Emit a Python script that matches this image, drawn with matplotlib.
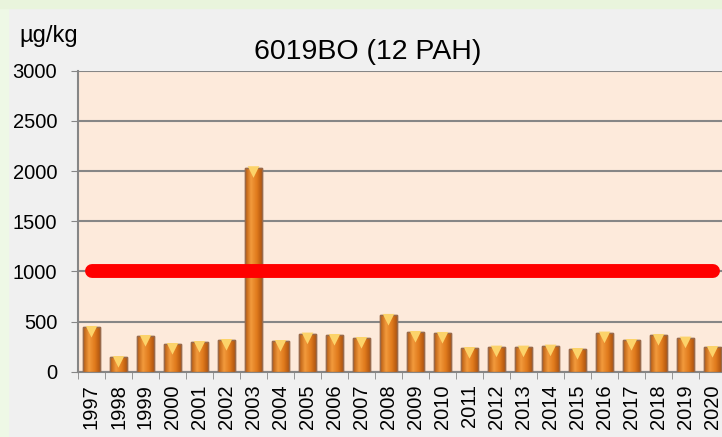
import numpy as np
import matplotlib.pyplot as plt
from matplotlib.colors import LinearSegmentedColormap
from matplotlib.patches import Rectangle

plt.rcParams['font.family'] = ['Liberation Sans', 'DejaVu Sans']

years = [str(y) for y in range(1997, 2021)]
values = [443, 143, 353, 273, 293, 313, 2035, 303, 377, 363, 333, 563,
          393, 383, 233, 247, 247, 257, 223, 387, 313, 363, 337, 243]
limit = 1000
title = "6019BO (12 PAH)"
unit = "µg/kg"

fig = plt.figure(figsize=(7.22, 4.37), dpi=100)
fig.patch.set_facecolor('#f0f0f0')
# light green frame at left and top
fig.add_artist(Rectangle((0, 0), 8 / 722, 1, transform=fig.transFigure,
                         color='#eef8e6', zorder=0))
fig.add_artist(Rectangle((0, 1 - 8 / 437), 1, 8 / 437, transform=fig.transFigure,
                         color='#e9f4dc', zorder=0))

ax = fig.add_axes([78 / 722, 1 - 371.7 / 437, 648 / 722, 301 / 437])
ax.set_facecolor('#fdeadb')

x = np.arange(len(years))
bars = ax.bar(x, values, width=0.66, color='#e87f22', edgecolor='#9a6a4a',
              linewidth=1.0, zorder=3)

# cylinder-like shading
cmap = LinearSegmentedColormap.from_list(
    'cyl', ['#b5580f', '#f29a3c', '#e07a1c', '#a8500e'])
grad = np.linspace(0, 1, 64).reshape(1, -1)
for b in bars:
    x0, w, h = b.get_x(), b.get_width(), b.get_height()
    im = ax.imshow(grad, extent=[x0, x0 + w, 0, h], aspect='auto', cmap=cmap,
                   zorder=3.5)
    im.set_clip_path(b)
ax.bar(x, values, width=0.66, color='none', edgecolor='#9a6a4a',
       linewidth=1.0, zorder=4)
ax.scatter(x, np.array(values) - 45, marker='v', s=70, color='#fcd36a',
           edgecolors='none', zorder=5)

ax.plot([x[0], x[-1]], [limit, limit], color='#ff0000', lw=10,
        solid_capstyle='round', zorder=6)

ax.set_xlim(-0.5, len(years) - 0.5)
ax.set_ylim(0, 3000)
ax.set_yticks(range(0, 3001, 500))
ax.tick_params(axis='y', labelsize=14.5, length=5, color='#868686', pad=10)
ax.set_xticks(x)
ax.set_xticklabels(years, rotation=90, fontsize=14.5)
ax.set_xticks(np.arange(-0.5, len(years), 1), minor=True)
ax.tick_params(axis='x', which='major', length=0, pad=9)
ax.tick_params(axis='x', which='minor', length=5, color='#868686')
ax.grid(axis='y', color='#868686', lw=1.5, zorder=1)
for s in ['top', 'right']:
    ax.spines[s].set_visible(False)
for s in ['left', 'bottom']:
    ax.spines[s].set_color('#868686')
    ax.spines[s].set_linewidth(1.5)

fig.text(367.7 / 722, 1 - 59.3 / 437, title, ha='center', va='baseline',
         fontsize=20.5)
fig.text(19 / 722, 1 - 41.7 / 437, unit, ha='left', va='baseline', fontsize=17)

fig.savefig('out.png', dpi=100, facecolor=fig.get_facecolor())
